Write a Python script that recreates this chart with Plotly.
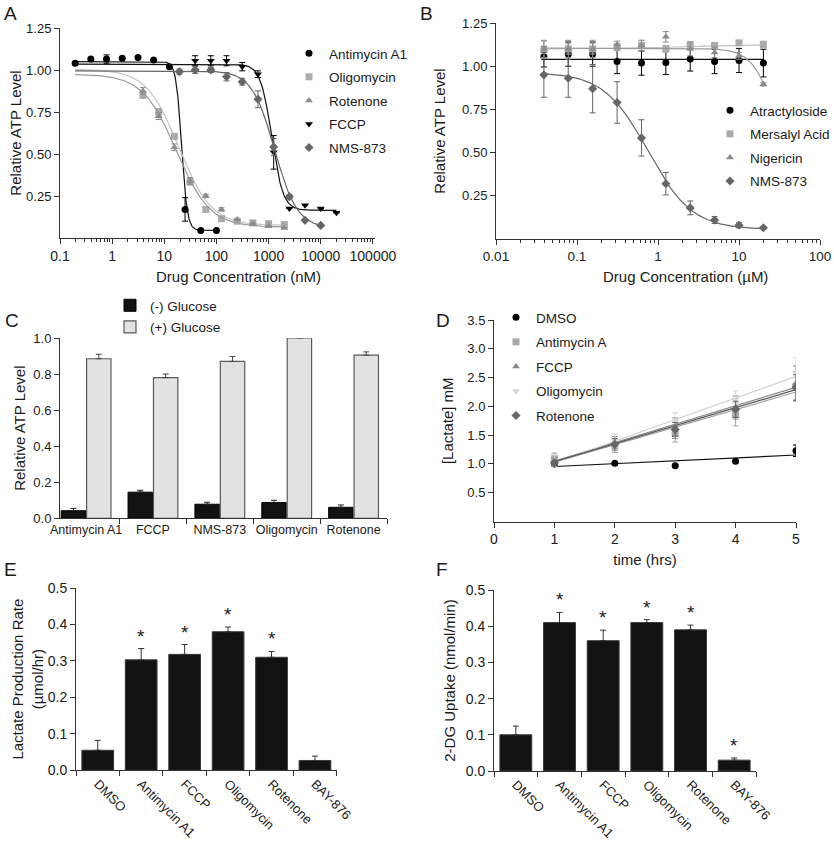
import numpy as np
import plotly.graph_objects as go

W, H = 834, 848
FONT = "Liberation Sans, Arial, sans-serif"
TXT = "#1a1a1a"
AX = "#333333"

# ---------------- Panel A data (nM) ----------------
a_conc_anti = [0.195, 0.39, 0.78, 1.56, 3.13, 6.25, 12.5, 25, 50, 100]
a_conc_oli = [3.9, 7.8, 15.6, 31.25, 62.5, 125, 250, 500, 1000, 2000]
a_conc_fccp = [39, 78, 156, 312, 625, 1250, 2500, 5000, 10000, 20000]
a_conc_nms = [19.5, 39, 78, 156, 312, 625, 1250, 2500, 5000, 10000]

a_anti = [1.04, 1.065, 1.065, 1.07, 1.075, 1.06, 1.02, 0.17, 0.045, 0.045]
a_anti_err = [0, 0, 0.025, 0, 0, 0, 0, 0.07, 0, 0]
a_oli = [0.85, 0.75, 0.605, 0.335, 0.17, 0.115, 0.1, 0.09, 0.085, 0.08]
a_oli_err = [0.02, 0.02, 0, 0.02, 0.01, 0, 0, 0, 0, 0]
a_rot = [0.875, 0.725, 0.54, 0.34, 0.25, 0.17, 0.11, 0.085, 0.07, 0.06]
a_rot_err = [0.02, 0.02, 0.02, 0.02, 0.01, 0.01, 0, 0, 0, 0]
a_fccp = [1.055, 1.055, 1.055, 1.02, 0.975, 0.51, 0.175, 0.195, 0.175, 0.15]
a_fccp_err = [0.03, 0.03, 0.03, 0.025, 0.02, 0.1, 0, 0, 0, 0]
a_nms = [0.99, 1.0, 1.0, 0.96, 0.93, 0.826, 0.542, 0.246, 0.105, 0.075]
a_nms_err = [0.015, 0.02, 0.015, 0.025, 0.02, 0.05, 0.05, 0.01, 0, 0]

# 4-parameter logistic fit parameters: top, bottom, EC50, hill
a_fit_anti = [1.05, 0.045, 21.5, 8.0]
a_fit_oli = [1.005, 0.075, 19.0, 1.4]
a_fit_rot = [0.975, 0.065, 17.0, 1.35]
a_fit_fccp = [1.035, 0.165, 1150, 4.0]
a_fit_nms = [0.995, 0.06, 1300, 2.0]

# ---------------- Panel B data (uM) ----------------
b_conc = [0.039, 0.078, 0.156, 0.3125, 0.625, 1.25, 2.5, 5, 10, 20]
b_atr = [1.055, 1.07, 1.07, 1.027, 1.018, 1.022, 1.042, 1.027, 1.033, 1.018]
b_atr_err = [0.06, 0.07, 0.07, 0.07, 0.07, 0.07, 0.07, 0.07, 0.07, 0.08]
b_mer = [1.095, 1.1, 1.1, 1.11, 1.12, 1.1, 1.12, 1.12, 1.135, 1.125]
b_mer_err = [0.05, 0.03, 0.03, 0.02, 0.03, 0.02, 0.02, 0.01, 0.01, 0.02]
b_nig = [1.1, 1.1, 1.1, 1.125, 1.12, 1.17, 1.1, 1.08, 1.06, 0.895]
b_nig_err = [0.05, 0.05, 0.05, 0.02, 0.03, 0.03, 0.04, 0.03, 0.02, 0.01]
b_nms = [0.95, 0.93, 0.87, 0.79, 0.585, 0.32, 0.18, 0.11, 0.08, 0.065]
b_nms_err = [0.13, 0.11, 0.14, 0.12, 0.105, 0.065, 0.04, 0.02, 0.015, 0.005]

b_fit_atr = [1.04, 1.04, 1.0, 1.0]
b_fit_mer = [1.098, 1.13, 3.0, 0.7]
b_fit_nig = [1.105, 0.0, 34.0, 2.8]
b_fit_nms = [0.965, 0.055, 0.75, 1.6]

# ---------------- Panel C data ----------------
c_cats = ["Antimycin A1", "FCCP", "NMS-873", "Oligomycin", "Rotenone"]
c_minus = [0.042, 0.145, 0.078, 0.087, 0.061]
c_minus_err = [0.013, 0.01, 0.011, 0.013, 0.013]
c_plus = [0.885, 0.78, 0.87, 1.0, 0.905]
c_plus_err = [0.025, 0.02, 0.027, 0.022, 0.018]

# ---------------- Panel D data ----------------
d_time = [1, 2, 3, 4, 5]
d_dmso = [1.0, 1.01, 0.97, 1.045, 1.23]
d_dmso_err = [0.02, 0.01, 0.01, 0.01, 0.1]
d_anti = [1.09, 1.32, 1.53, 1.86, 2.34]
d_anti_err = [0.1, 0.12, 0.15, 0.2, 0.25]
d_fccp = [1.05, 1.375, 1.62, 1.98, 2.4]
d_fccp_err = [0.05, 0.1, 0.18, 0.2, 0.3]
d_oli = [1.06, 1.4, 1.74, 2.12, 2.58]
d_oli_err = [0.1, 0.12, 0.15, 0.15, 0.27]
d_rot = [1.02, 1.34, 1.6, 1.95, 2.33]
d_rot_err = [0.05, 0.1, 0.12, 0.14, 0.22]
# linear fits: intercept, slope
d_fit_dmso = [0.905, 0.05]
d_fit_anti = [0.725, 0.305]
d_fit_fccp = [0.73, 0.32]
d_fit_oli = [0.645, 0.375]
d_fit_rot = [0.7275, 0.3125]

# ---------------- Panel E / F data ----------------
ef_cats = ["DMSO", "Antimycin A1", "FCCP", "Oligomycin", "Rotenone", "BAY-876"]
e_vals = [0.055, 0.303, 0.318, 0.38, 0.31, 0.027]
e_err = [0.027, 0.031, 0.027, 0.013, 0.016, 0.012]
e_sig = [False, True, True, True, True, False]
f_vals = [0.1, 0.41, 0.36, 0.41, 0.39, 0.03]
f_err = [0.024, 0.028, 0.029, 0.008, 0.013, 0.006]
f_sig = [False, True, True, True, True, True]


def px_x(a, b):
    return [a / W, b / W]


def px_y(top, bottom):
    return [1 - bottom / H, 1 - top / H]


def logistic(p, xmin, xmax):
    top, bot, ec, h = p
    xs = np.logspace(np.log10(xmin), np.log10(xmax), 300)
    return xs, bot + (top - bot) / (1 + (xs / ec) ** h)


fig = go.Figure()


def add_series(x, y, err, name, sym, col, xa, ya, legend, fit_x, fit_y, lcol, msize=7):
    fig.add_trace(go.Scatter(
        x=fit_x, y=fit_y, mode="lines", line=dict(color=lcol, width=1.2),
        xaxis=xa, yaxis=ya, showlegend=False, hoverinfo="skip"))
    fig.add_trace(go.Scatter(
        x=x, y=y, mode="markers", name=name, legend=legend, legendgroup=legend + name,
        marker=dict(symbol=sym, size=msize, color=col, line=dict(width=0)),
        error_y=dict(type="data", array=err, visible=True, color=col, thickness=1, width=3),
        xaxis=xa, yaxis=ya))


# Panel A
A_series = [
    (a_conc_anti, a_anti, a_anti_err, "Antimycin A1", "circle", "#000000", a_fit_anti, "#111111"),
    (a_conc_oli, a_oli, a_oli_err, "Oligomycin", "square", "#ababab", a_fit_oli, "#c4c4c4"),
    (a_conc_oli, a_rot, a_rot_err, "Rotenone", "triangle-up", "#8c8c8c", a_fit_rot, "#9a9a9a"),
    (a_conc_fccp, a_fccp, a_fccp_err, "FCCP", "triangle-down", "#000000", a_fit_fccp, "#111111"),
    (a_conc_nms, a_nms, a_nms_err, "NMS-873", "diamond", "#666666", a_fit_nms, "#666666"),
]
for xv, yv, ev, nm, sym, col, fit, lcol in A_series:
    fx, fy = logistic(fit, 0.195, max(xv))
    add_series(xv, yv, ev, nm, sym, col, "x", "y", "legend", fx, fy, lcol)

# Panel B
B_series = [
    (b_atr, b_atr_err, "Atractyloside", "circle", "#000000", b_fit_atr, "#111111"),
    (b_mer, b_mer_err, "Mersalyl Acid", "square", "#ababab", b_fit_mer, "#c0c0c0"),
    (b_nig, b_nig_err, "Nigericin", "triangle-up", "#8c8c8c", b_fit_nig, "#9a9a9a"),
    (b_nms, b_nms_err, "NMS-873", "diamond", "#666666", b_fit_nms, "#666666"),
]
for yv, ev, nm, sym, col, fit, lcol in B_series:
    fx, fy = logistic(fit, min(b_conc), max(b_conc))
    add_series(b_conc, yv, ev, nm, sym, col, "x2", "y2", "legend2", fx, fy, lcol)

# Panel C
fig.add_trace(go.Bar(
    x=c_cats, y=c_minus, name="(-) Glucose", legend="legend3", legendgroup="c1",
    marker=dict(color="#121212", line=dict(color="#000000", width=1)),
    error_y=dict(type="data", array=c_minus_err, arrayminus=[0] * 5, symmetric=False,
                 color="#222222", thickness=1, width=3),
    xaxis="x3", yaxis="y3"))
fig.add_trace(go.Bar(
    x=c_cats, y=c_plus, name="(+) Glucose", legend="legend3", legendgroup="c2",
    marker=dict(color="#e2e2e2", line=dict(color="#5a5a5a", width=1.2)),
    error_y=dict(type="data", array=c_plus_err, arrayminus=[0] * 5, symmetric=False,
                 color="#444444", thickness=1, width=3),
    xaxis="x3", yaxis="y3"))

# Panel D
D_series = [
    (d_dmso, d_dmso_err, "DMSO", "circle", "#000000", d_fit_dmso, "#111111"),
    (d_anti, d_anti_err, "Antimycin A", "square", "#a8a8a8", d_fit_anti, "#a0a0a0"),
    (d_fccp, d_fccp_err, "FCCP", "triangle-up", "#888888", d_fit_fccp, "#888888"),
    (d_oli, d_oli_err, "Oligomycin", "triangle-down", "#d6d6d6", d_fit_oli, "#d0d0d0"),
    (d_rot, d_rot_err, "Rotenone", "diamond", "#666666", d_fit_rot, "#555555"),
]
for yv, ev, nm, sym, col, fit, lcol in D_series:
    fx = [min(d_time), max(d_time)]
    fy = [fit[0] + fit[1] * t for t in fx]
    add_series(d_time, yv, ev, nm, sym, col, "x4", "y4", "legend4", fx, fy, lcol, msize=7)

# Panels E, F
for vals, err, xa, ya in [(e_vals, e_err, "x5", "y5"), (f_vals, f_err, "x6", "y6")]:
    fig.add_trace(go.Bar(
        x=ef_cats, y=vals, width=0.73, showlegend=False,
        marker=dict(color="#121212", line=dict(color="#3a3a3a", width=1)),
        error_y=dict(type="data", array=err, arrayminus=[0] * len(err), symmetric=False,
                     color="#333333", thickness=1, width=3),
        xaxis=xa, yaxis=ya))

xtickfont = dict(size=14, color=TXT, family=FONT)
ytickfont = dict(size=13, color=TXT, family=FONT)
titlefont = dict(size=15, color=TXT, family=FONT)

annotations = []
for vals, err, sig, xa, ya in [(e_vals, e_err, e_sig, "x5", "y5"), (f_vals, f_err, f_sig, "x6", "y6")]:
    for c, v, e, s in zip(ef_cats, vals, err, sig):
        if s:
            annotations.append(dict(x=c, y=v + e, xref=xa, yref=ya, text="*", showarrow=False,
                                    yanchor="bottom", yshift=0,
                                    font=dict(size=19, color=TXT, family=FONT)))

for letter, xp, yp in [("A", 10, 13), ("B", 426, 13), ("C", 12, 320), ("D", 443, 320),
                       ("E", 10, 569), ("F", 442, 569)]:
    annotations.append(dict(x=xp / W, y=1 - yp / H, xref="paper", yref="paper", text=letter,
                            showarrow=False, xanchor="center", yanchor="middle",
                            font=dict(size=19, color=TXT, family=FONT)))

# x-axis titles of the dose-response panels (centred as in the original figure)
for txt, xp, yp in [("Drug Concentration (nM)", 238, 277), ("Drug Concentration (\u00b5M)", 685, 277)]:
    annotations.append(dict(x=xp / W, y=1 - yp / H, xref="paper", yref="paper", text=txt,
                            showarrow=False, xanchor="center", yanchor="middle", font=titlefont))


def base_axis(**kw):
    d = dict(showline=True, linecolor=AX, linewidth=1, ticks="outside", ticklen=5,
             tickcolor=AX, tickwidth=1, showgrid=False, zeroline=False, tickfont=ytickfont,
             mirror=False, automargin=False)
    d.update(kw)
    return d


def log_minor(lo, hi):
    vals = []
    for dec in range(lo, hi):
        for m in range(2, 10):
            vals.append(m * 10.0 ** dec)
    return vals


layout = dict(
    width=W, height=H, margin=dict(l=0, r=0, t=0, b=0, autoexpand=False),
    paper_bgcolor="white", plot_bgcolor="white",
    font=dict(family=FONT, color=TXT, size=13),
    barmode="group", bargap=0.24, bargroupgap=0.04,
    annotations=annotations,
    # Panel A
    xaxis=base_axis(domain=px_x(60, 375), anchor="y", type="log", range=[-1, 5.04],
                    tickvals=[0.1, 1, 10, 100, 1000, 10000, 100000],
                    ticktext=["0.1", "1", "10", "100", "1000", "10000", "100000"],
                    tickfont=xtickfont,
                    minor=dict(tickmode="array", tickvals=log_minor(-1, 5), ticks="outside",
                               ticklen=3, tickcolor=AX)),
    yaxis=base_axis(domain=px_y(28, 238), anchor="x", range=[0, 1.25],
                    tickvals=[0.25, 0.5, 0.75, 1.0, 1.25], tickformat=".2f",
                    title=dict(text="Relative ATP Level", font=titlefont, standoff=0)),
    # Panel B
    xaxis2=base_axis(domain=px_x(496, 820), anchor="y2", type="log", range=[-2, 2],
                     tickvals=[0.01, 0.1, 1, 10, 100],
                     ticktext=["0.01", "0.1", "1", "10", "100"],
                     tickfont=dict(size=13.5, color=TXT, family=FONT),
                     minor=dict(tickmode="array", tickvals=log_minor(-2, 2), ticks="outside",
                                ticklen=3, tickcolor=AX)),
    yaxis2=base_axis(domain=px_y(23, 239), anchor="x2", range=[0, 1.25],
                     tickvals=[0.25, 0.5, 0.75, 1.0, 1.25], tickformat=".2f",
                     title=dict(text="Relative ATP Level", font=titlefont, standoff=12)),
    # Panel C
    xaxis3=base_axis(domain=px_x(60, 387), anchor="y3", type="category", range=[-0.39, 4.5],
                     tickson="boundaries", ticklen=5, tickangle=0,
                     tickfont=dict(size=12.5, color=TXT, family=FONT)),
    yaxis3=base_axis(domain=px_y(338, 518.3), anchor="x3", range=[0, 1.0], dtick=0.2,
                     tickformat=".1f",
                     title=dict(text="Relative ATP Level", font=titlefont, standoff=4)),
    # Panel D
    xaxis4=base_axis(domain=px_x(494, 796), anchor="y4", range=[0, 5], dtick=1,
                     tickfont=xtickfont,
                     title=dict(text="time (hrs)", font=titlefont, standoff=8)),
    yaxis4=base_axis(domain=px_y(320, 521.5), anchor="x4", range=[0, 3.5],
                     tickvals=[0.5, 1.0, 1.5, 2.0, 2.5, 3.0, 3.5], tickformat=".1f",
                     title=dict(text="[Lactate] mM", font=titlefont, standoff=10)),
    # Panel E
    xaxis5=base_axis(domain=px_x(76, 336.7), anchor="y5", type="category", range=[-0.5, 5.5],
                     tickson="boundaries", tickangle=45,
                     tickfont=dict(size=13, color=TXT, family=FONT)),
    yaxis5=base_axis(domain=px_y(588, 770.3), anchor="x5", range=[0, 0.5], dtick=0.1,
                     tickformat=".1f", tickfont=xtickfont,
                     title=dict(text="Lactate Production Rate<br>(\u00b5mol/hr)", font=titlefont,
                                standoff=0)),
    # Panel F
    xaxis6=base_axis(domain=px_x(494, 756), anchor="y6", type="category", range=[-0.5, 5.5],
                     tickson="boundaries", tickangle=45,
                     tickfont=dict(size=13, color=TXT, family=FONT)),
    yaxis6=base_axis(domain=px_y(590, 771), anchor="x6", range=[0, 0.5], dtick=0.1,
                     tickformat=".1f", tickfont=xtickfont,
                     title=dict(text="2-DG Uptake (nmol/min)", font=titlefont, standoff=6)),
)

legfont = dict(size=13.5, color=TXT, family=FONT)
for key, xp, yp, gap in [("legend", 289, 38, 3), ("legend2", 710, 95, 3),
                         ("legend3", 110, 290, 1), ("legend4", 496, 302, 4)]:
    layout[key] = dict(x=xp / W, y=1 - yp / H, xanchor="left", yanchor="top",
                       xref="paper", yref="paper", bgcolor="rgba(0,0,0,0)",
                       font=legfont, tracegroupgap=gap, borderwidth=0)

fig.update_layout(**layout)
fig.write_html("out.html", config={"displayModeBar": False},
               post_script="document.body.style.margin='0px';")
